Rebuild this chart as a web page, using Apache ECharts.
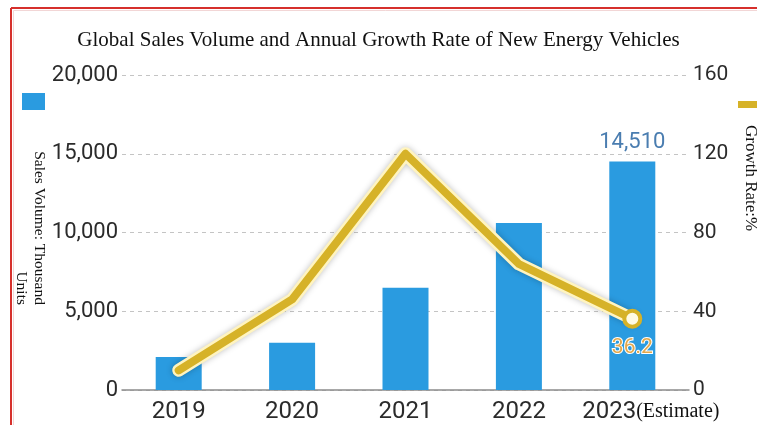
<!DOCTYPE html>
<html>
<head>
<meta charset="utf-8">
<script src="https://cdn.jsdelivr.net/npm/echarts@6/dist/echarts.min.js"></script>
<style>
  html, body { margin: 0; padding: 0; background: #ffffff; }
  #chart { width: 757px; height: 425px; }
</style>
</head>
<body>
<div id="chart"></div>
<script>
// ---- data ----
const years = ['2019', '2020', '2021', '2022', '2023'];
const salesVolume = [2100, 3000, 6500, 10600, 14510];
const growthRate = [10, 46, 120, 64, 36.2];
const salesTicks = [0, 5000, 10000, 15000, 20000];
const rateTicks = [0, 40, 80, 120, 160];
const titleText = 'Global Sales Volume and Annual Growth Rate of New Energy Vehicles';
const leftAxisName = 'Sales Volume: Thousand\nUnits';
const rightAxisName = 'Growth Rate:%';
const estimateSuffix = '(Estimate)';

const BLUE = '#2a9be0';
const GOLD = '#d6b228';
const last = years.length - 1;

const chart = echarts.init(document.getElementById('chart'), null, { renderer: 'canvas' });

const option = {
  animation: false,
  backgroundColor: '#ffffff',
  title: {
    text: titleText,
    left: 'center',
    top: 30,
    padding: 0,
    textStyle: { fontFamily: 'Liberation Serif', fontSize: 21, fontWeight: 'normal', color: '#111' }
  },
  legend: [
    {
      data: [{ name: 'Sales Volume', icon: 'rect' }],
      left: 22, top: 93, padding: 0,
      itemWidth: 23, itemHeight: 17,
      formatter: () => '',
      selectedMode: false
    },
    {
      data: [{ name: 'Growth Rate', icon: 'rect' }],
      left: 738, top: 101, padding: 0,
      itemWidth: 26, itemHeight: 7,
      formatter: () => '',
      selectedMode: false
    }
  ],
  grid: { left: 122, right: 68, top: 75, bottom: 35, containLabel: false },
  xAxis: {
    type: 'category',
    data: years,
    axisLine: { lineStyle: { color: '#8c8c8c', width: 1.5 } },
    axisTick: { show: false },
    axisLabel: {
      margin: 10,
      interval: 0,
      formatter: (v) => v === years[last] ? '{y2|' + v + '}{e|' + estimateSuffix + '}' : '{y|' + v + '}',
      rich: {
        y: { fontFamily: 'Roboto', fontSize: 24, color: '#2b2b2b' },
        y2: { fontFamily: 'Roboto', fontSize: 24, color: '#2b2b2b', padding: [0, 0, 0, 37] },
        e: { fontFamily: 'Liberation Serif', fontSize: 20, color: '#111' }
      }
    }
  },
  yAxis: [
    {
      type: 'value',
      min: salesTicks[0], max: salesTicks[salesTicks.length - 1],
      interval: salesTicks[1] - salesTicks[0],
      axisLine: { show: false },
      axisTick: { show: false },
      axisLabel: {
        margin: 4,
        fontFamily: 'Roboto', fontSize: 22, color: '#2b2b2b',
        formatter: (v) => v.toLocaleString('en-US')
      },
      splitLine: { lineStyle: { color: '#c4c4c4', type: [4, 4], width: 1 } }
    },
    {
      type: 'value',
      min: rateTicks[0], max: rateTicks[rateTicks.length - 1],
      interval: rateTicks[1] - rateTicks[0],
      axisLine: { show: false },
      axisTick: { show: false },
      axisLabel: { margin: 4, fontFamily: 'Roboto', fontSize: 21, color: '#2b2b2b' },
      splitLine: { show: false }
    }
  ],
  series: [
    {
      name: 'Sales Volume',
      type: 'bar',
      yAxisIndex: 0,
      barWidth: 46,
      color: BLUE,
      itemStyle: { color: BLUE },
      data: salesVolume.map((v, i) => i === last ? {
        value: v,
        label: {
          show: true, position: 'top', distance: 8,
          fontFamily: 'Roboto', fontSize: 22, color: '#4a7db0',
          formatter: (p) => p.value.toLocaleString('en-US')
        }
      } : v),
      z: 2
    },
    {
      name: 'glow',
      type: 'line',
      yAxisIndex: 1,
      data: growthRate,
      symbol: 'none',
      silent: true,
      lineStyle: {
        color: '#fff4c0', width: 13, cap: 'round', join: 'round',
        shadowColor: 'rgba(0,0,0,0.25)', shadowBlur: 6
      },
      z: 3
    },
    {
      name: 'Growth Rate',
      type: 'line',
      yAxisIndex: 1,
      color: GOLD,
      showSymbol: true,
      symbol: 'none',
      lineStyle: { color: GOLD, width: 8, cap: 'round', join: 'round' },
      itemStyle: { color: GOLD },
      data: growthRate.map((v, i) => i === last ? {
        value: v,
        symbol: 'circle',
        symbolSize: 16,
        itemStyle: { color: '#fffbe4', borderColor: GOLD, borderWidth: 4 },
        label: {
          show: true, position: 'bottom', distance: 9,
          fontFamily: 'Roboto', fontSize: 21, color: '#e2a84c',
          textBorderColor: '#ffffff', textBorderWidth: 2
        }
      } : v),
      z: 4
    }
  ],
  graphic: [
    {
      type: 'text',
      x: 48, y: 305,
      rotation: -Math.PI / 2,
      style: {
        text: leftAxisName,
        fontFamily: 'Liberation Serif', fontSize: 15.5, lineHeight: 18,
        fill: '#111', align: 'right', verticalAlign: 'top'
      }
    },
    {
      type: 'text',
      x: 759, y: 125,
      rotation: -Math.PI / 2,
      style: {
        text: rightAxisName,
        fontFamily: 'Liberation Serif', fontSize: 17,
        fill: '#111', align: 'left', verticalAlign: 'top'
      }
    },
    { type: 'line', shape: { x1: 11, y1: 8, x2: 11, y2: 425 }, style: { stroke: '#d6302c', lineWidth: 2 } },
    { type: 'line', shape: { x1: 11, y1: 8, x2: 757, y2: 8 }, style: { stroke: '#d6302c', lineWidth: 2 } },
    { type: 'line', shape: { x1: 13.5, y1: 10.5, x2: 13.5, y2: 425 }, style: { stroke: '#f2d6d6', lineWidth: 1 } },
    { type: 'line', shape: { x1: 13.5, y1: 10.5, x2: 757, y2: 10.5 }, style: { stroke: '#f2d6d6', lineWidth: 1 } }
  ]
};

chart.setOption(option);
</script>
</body>
</html>
